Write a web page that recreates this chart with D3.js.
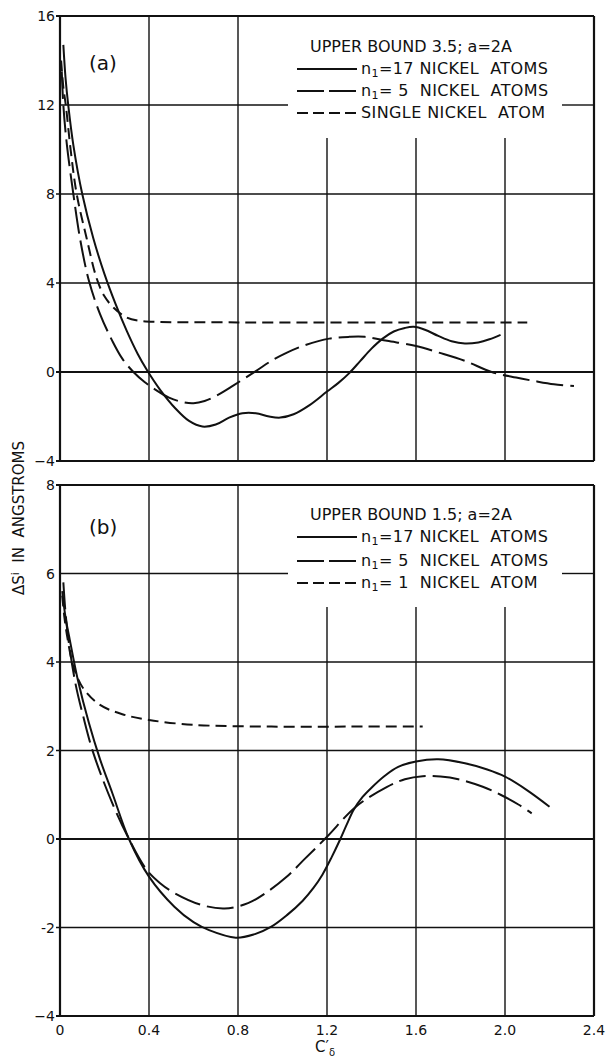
<!DOCTYPE html>
<html><head><meta charset="utf-8">
<script src="https://cdn.jsdelivr.net/npm/d3@7"></script>
<style>body{margin:0;background:#fff}text{font-family:"DejaVu Sans",sans-serif;fill:#111}</style>
</head><body><svg id="c" width="608" height="1061"></svg>
<script>
// ---- data ----
const xTicks = [0, 0.4, 0.8, 1.2, 1.6, 2.0, 2.4];
const xTickLabels = ["0", "0.4", "0.8", "1.2", "1.6", "2.0", "2.4"];
const yTicksA = [-4, 0, 4, 8, 12, 16];
const yTickLabelsA = ["−4", "0", "4", "8", "12", "16"];
const yTicksB = [-4, -2, 0, 2, 4, 6, 8];
const yTickLabelsB = ["−4", "-2", "0", "2", "4", "6", "8"];

// panel (a): upper bound 3.5
const a17 = [[0.015,14.7],[0.025,13.2],[0.037,12],[0.06,10.2],[0.10,8],[0.15,6],[0.2,4.4],[0.25,3.05],[0.3,1.85],[0.35,0.8],[0.39,0.1],[0.45,-0.8],[0.52,-1.65],[0.58,-2.2],[0.64,-2.45],[0.7,-2.36],[0.76,-2.05],[0.82,-1.85],[0.88,-1.85],[0.94,-2.0],[0.99,-2.05],[1.05,-1.9],[1.12,-1.5],[1.2,-0.88],[1.25,-0.5],[1.3,-0.05],[1.35,0.5],[1.4,1.05],[1.45,1.5],[1.5,1.82],[1.55,1.98],[1.59,2.03],[1.64,1.9],[1.7,1.62],[1.76,1.38],[1.82,1.28],[1.88,1.33],[1.93,1.47],[1.98,1.67]];
const a5 = [[0.008,13.5],[0.015,12],[0.03,10.3],[0.06,8],[0.09,6],[0.13,4.1],[0.18,2.6],[0.235,1.4],[0.28,0.6],[0.33,0],[0.38,-0.45],[0.43,-0.8],[0.49,-1.15],[0.55,-1.35],[0.6,-1.4],[0.65,-1.3],[0.7,-1.08],[0.78,-0.6],[0.88,0.04],[0.95,0.5],[1.02,0.87],[1.1,1.2],[1.21,1.5],[1.3,1.58],[1.37,1.58],[1.47,1.4],[1.6,1.17],[1.7,0.88],[1.82,0.5],[1.94,0.0],[2.05,-0.25],[2.13,-0.4],[2.22,-0.55],[2.31,-0.63]];
const a1 = [[0.005,14.0],[0.015,12.8],[0.026,12],[0.05,9.8],[0.075,8],[0.12,6],[0.165,4.2],[0.2,3.4],[0.24,2.9],[0.3,2.45],[0.36,2.3],[0.45,2.25],[0.8,2.23],[1.2,2.22],[1.6,2.22],[2.1,2.22]];

// panel (b): upper bound 1.5
const b17 = [[0.01,5.6],[0.025,5.0],[0.044,4.5],[0.08,3.6],[0.13,2.62],[0.18,1.8],[0.235,1.04],[0.31,0],[0.40,-0.85],[0.514,-1.53],[0.6,-1.88],[0.67,-2.06],[0.79,-2.23],[0.87,-2.16],[0.95,-1.98],[1.02,-1.72],[1.09,-1.4],[1.14,-1.1],[1.18,-0.8],[1.22,-0.42],[1.26,0],[1.29,0.34],[1.32,0.66],[1.36,0.95],[1.4,1.16],[1.46,1.43],[1.52,1.63],[1.6,1.75],[1.70,1.80],[1.82,1.71],[1.92,1.57],[2.0,1.41],[2.1,1.1],[2.2,0.73]];
const b5 = [[0.015,5.8],[0.025,5.1],[0.038,4.5],[0.07,3.5],[0.105,2.76],[0.15,1.94],[0.235,0.81],[0.31,0],[0.39,-0.7],[0.45,-1.0],[0.514,-1.22],[0.636,-1.49],[0.74,-1.57],[0.845,-1.45],[0.93,-1.2],[1.02,-0.85],[1.1,-0.45],[1.2,0.05],[1.33,0.73],[1.47,1.18],[1.55,1.35],[1.63,1.42],[1.71,1.41],[1.79,1.35],[1.9,1.18],[1.98,1.0],[2.06,0.78],[2.12,0.58]];
const b1 = [[0.01,5.5],[0.02,5.0],[0.035,4.5],[0.06,3.9],[0.105,3.4],[0.18,3.03],[0.28,2.82],[0.40,2.69],[0.6,2.58],[0.95,2.54],[1.3,2.54],[1.63,2.54]];

// ---- drawing ----
const svg = d3.select("#c");
const x = d3.scaleLinear().domain([0, 2.4]).range([60, 594]);
const yA = d3.scaleLinear().domain([-4, 16]).range([461, 16]);
const yB = d3.scaleLinear().domain([-4, 8]).range([1016, 485]);

const panels = [
  {y: yA, ticks: yTicksA, labels: yTickLabelsA, gap: [288, 562, 138], tag: "(a)", tagY: 70,
   title: "UPPER BOUND 3.5; a=2A", legY: [52, 69, 91, 113],
   series: [{d: a17, dash: null, leg: "=17 NICKEL  ATOMS", sub: true},
            {d: a5, dash: "27,7", legDash: "27,5", leg: "= 5  NICKEL  ATOMS", sub: true},
            {d: a1, dash: "11,6", legDash: "11,5", leg: "SINGLE NICKEL  ATOM", sub: false}]},
  {y: yB, ticks: yTicksB, labels: yTickLabelsB, gap: [288, 562, 607], tag: "(b)", tagY: 534,
   title: "UPPER BOUND 1.5; a=2A", legY: [520, 537, 561, 583],
   series: [{d: b17, dash: null, leg: "=17 NICKEL  ATOMS", sub: true},
            {d: b5, dash: "27,7", legDash: "27,5", leg: "= 5  NICKEL  ATOMS", sub: true},
            {d: b1, dash: "11,6", legDash: "11,5", leg: "= 1  NICKEL  ATOM", sub: true}]}
];

const line = d3.line().curve(d3.curveCatmullRom.alpha(0.5));

panels.forEach(p => {
  const y = p.y;
  const [y0, y1] = y.range(); // bottom, top
  const g = svg.append("g");
  // vertical grid
  xTicks.forEach(t => {
    const xp = x(t);
    const top = (xp > p.gap[0] && xp < p.gap[1]) ? p.gap[2] : y1;
    g.append("line").attr("x1", xp).attr("x2", xp).attr("y1", top).attr("y2", y0)
      .attr("stroke", "#111").attr("stroke-width", (t === 0 || t === 2.4) ? 2.2 : 1.4);
  });
  // horizontal grid
  p.ticks.forEach(t => {
    const yp = y(t);
    const w = (t === 0 || t === p.ticks[0] || t === p.ticks[p.ticks.length - 1]) ? 2.2 : 1.4;
    if (yp < p.gap[2] && yp > y1 + 2) {
      g.append("line").attr("x1", x(0)).attr("x2", p.gap[0]).attr("y1", yp).attr("y2", yp).attr("stroke", "#111").attr("stroke-width", w);
      g.append("line").attr("x1", p.gap[1]).attr("x2", x(2.4)).attr("y1", yp).attr("y2", yp).attr("stroke", "#111").attr("stroke-width", w);
    } else {
      g.append("line").attr("x1", x(0) - 4).attr("x2", x(2.4)).attr("y1", yp).attr("y2", yp).attr("stroke", "#111").attr("stroke-width", w);
    }
  });
  // y tick labels
  p.ticks.forEach((t, i) => {
    g.append("text").attr("x", 55).attr("y", y(t) + 5).attr("text-anchor", "end")
      .attr("font-size", 14).text(p.labels[i]);
  });
  // curves
  p.series.forEach(s => {
    g.append("path").attr("d", line(s.d.map(d => [x(d[0]), y(d[1])])))
      .attr("fill", "none").attr("stroke", "#111").attr("stroke-width", 2)
      .attr("stroke-dasharray", s.dash);
  });
  // panel tag
  g.append("text").attr("x", 89).attr("y", p.tagY).attr("font-size", 20).text(p.tag);
  // legend
  g.append("text").attr("x", 310).attr("y", p.legY[0]).attr("font-size", 16)
    .style("white-space", "pre").text(p.title);
  p.series.forEach((s, i) => {
    const ly = p.legY[i + 1];
    g.append("line").attr("x1", 297).attr("x2", 357).attr("y1", ly).attr("y2", ly)
      .attr("stroke", "#111").attr("stroke-width", 2).attr("stroke-dasharray", s.legDash || null);
    const t = g.append("text").attr("x", 361).attr("y", ly + 5).attr("font-size", 16)
      .attr("letter-spacing", 0.4).style("white-space", "pre");
    if (s.sub) {
      t.append("tspan").text("n");
      t.append("tspan").attr("font-size", 11).attr("dy", 3).text("1");
      t.append("tspan").attr("dy", -3).text(s.leg);
    } else {
      t.text(s.leg);
    }
  });
});

// x tick labels
xTicks.forEach((t, i) => {
  svg.append("text").attr("x", x(t)).attr("y", 1035).attr("text-anchor", "middle")
    .attr("font-size", 14).text(xTickLabels[i]);
});
// x axis label
const xl = svg.append("text").attr("x", 315).attr("y", 1052).attr("font-size", 15);
xl.append("tspan").text("C′");
xl.append("tspan").attr("font-size", 10).attr("dy", 4).text("δ");

// y axis label
const yl = svg.append("text").attr("transform", "translate(24,518) rotate(-90)")
  .attr("text-anchor", "middle").attr("font-size", 15).style("white-space", "pre");
yl.append("tspan").text("ΔS");
yl.append("tspan").attr("font-size", 11).attr("dy", -5).text("i");
yl.append("tspan").attr("dy", 5).text("  IN  ANGSTROMS");
</script>
</body></html>
